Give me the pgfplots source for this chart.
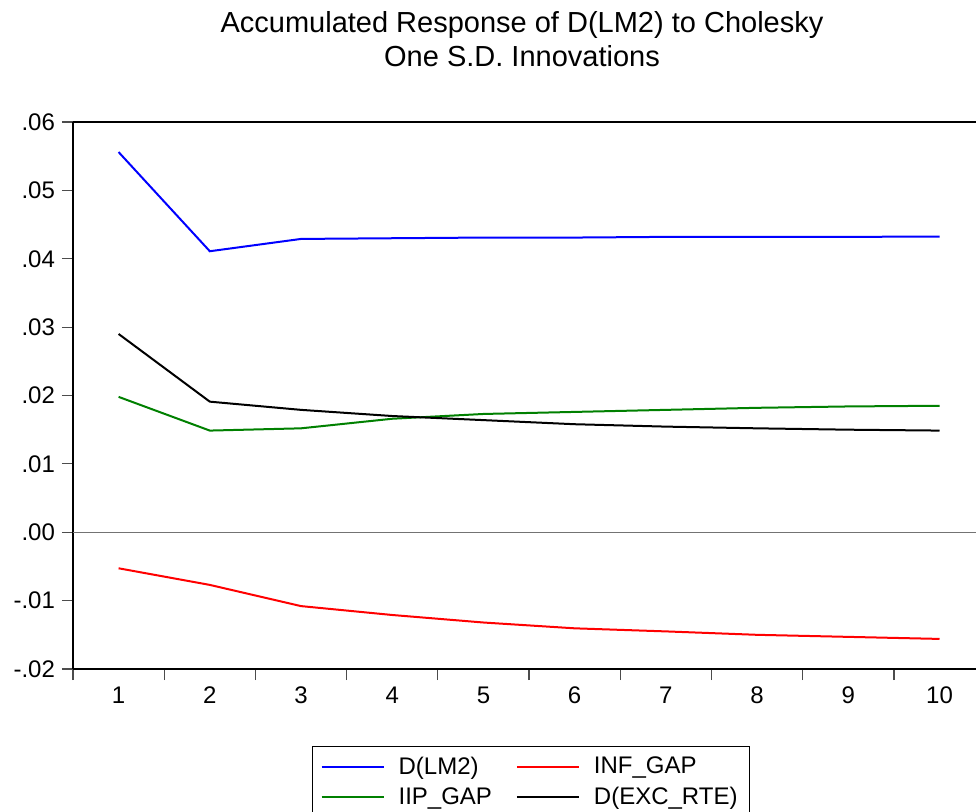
\documentclass[border=0pt]{standalone}
\usepackage{pgfplots}
\pgfplotsset{compat=1.18}
\usepackage{fontspec}
\setmainfont{Liberation Sans}
\begin{document}
\begin{tikzpicture}
\begin{axis}[
  scale only axis,
  width=451.5pt, height=273.5pt,
  xmin=0.5, xmax=10.4, ymin=-0.02, ymax=0.06,
  axis lines=left,
  axis line style={black, line width=0.9pt, -},
  tick align=outside,
  scaled y ticks=false,
  xtick={1,2,3,4,5,6,7,8,9,10},
  xticklabels={1,2,3,4,5,6,7,8,9,10},
  major x tick style={draw=none},
  minor xtick={0.5,1.5,2.5,3.5,4.5,5.5,6.5,7.5,8.5,9.5},
  minor x tick style={black!70, line width=0.6pt},
  minor tick length=5.5pt,
  ytick={-0.02,-0.01,0,0.01,0.02,0.03,0.04,0.05,0.06},
  yticklabels={-.02,-.01,.00,.01,.02,.03,.04,.05,.06},
  major y tick style={black!70, line width=0.6pt},
  major tick length=5.5pt,
  tick label style={font=\fontsize{12}{14}\selectfont},
  /pgf/number format/assume math mode=true,
  legend columns=2,
  legend cell align=left,
  legend style={at={(0.2647,-0.1408)}, anchor=north west, draw=black, line width=0.6pt,
    font=\fontsize{12}{14}\selectfont, inner xsep=4pt, inner ysep=3pt,
    row sep=1pt,
    /tikz/every odd column/.append style={column sep=5pt},
    /tikz/every even column/.append style={column sep=10pt}},
  legend image code/.code={\draw[#1, line width=1pt] (0pt,0pt) -- (31pt,0pt);},
  clip=false,
]
\addplot[blue, line width=1pt] coordinates {(1,0.0556) (2,0.0411) (3,0.0429) (4,0.0430) (5,0.0431) (6,0.0431) (7,0.0432) (8,0.0432) (9,0.0432) (10,0.04325)};
\addlegendentry{D(LM2)}
\addplot[red, line width=1pt] coordinates {(1,-0.00527) (2,-0.0077) (3,-0.0108) (4,-0.0121) (5,-0.0132) (6,-0.01405) (7,-0.0145) (8,-0.0150) (9,-0.0153) (10,-0.0156)};
\addlegendentry{INF\_GAP}
\addplot[green!50!black, line width=1pt] coordinates {(1,0.0198) (2,0.01487) (3,0.0152) (4,0.0166) (5,0.0173) (6,0.0176) (7,0.0179) (8,0.0182) (9,0.0184) (10,0.0185)};
\addlegendentry{IIP\_GAP}
\addplot[black, line width=1pt] coordinates {(1,0.0290) (2,0.0191) (3,0.0179) (4,0.0170) (5,0.0164) (6,0.0158) (7,0.01545) (8,0.0152) (9,0.0150) (10,0.01487)};
\addlegendentry{D(EXC\_RTE)}
\draw[black!55, line width=0.75pt] (axis cs:0.5,0) -- (axis cs:10.4,0);
\draw[black, line width=0.9pt] (rel axis cs:0,1) -- (rel axis cs:1,1);
\end{axis}
\node[anchor=base, font=\fontsize{14.5}{16}\selectfont] at (224.5pt,318.5pt) {Accumulated Response of D(LM2) to Cholesky};
\node[anchor=base, font=\fontsize{14.5}{16}\selectfont] at (224.5pt,301.5pt) {One S.D. Innovations};
\pgfresetboundingbox
\useasboundingbox (-36.5pt,-71pt) rectangle (451.5pt,334.5pt);
\end{tikzpicture}
\end{document}
